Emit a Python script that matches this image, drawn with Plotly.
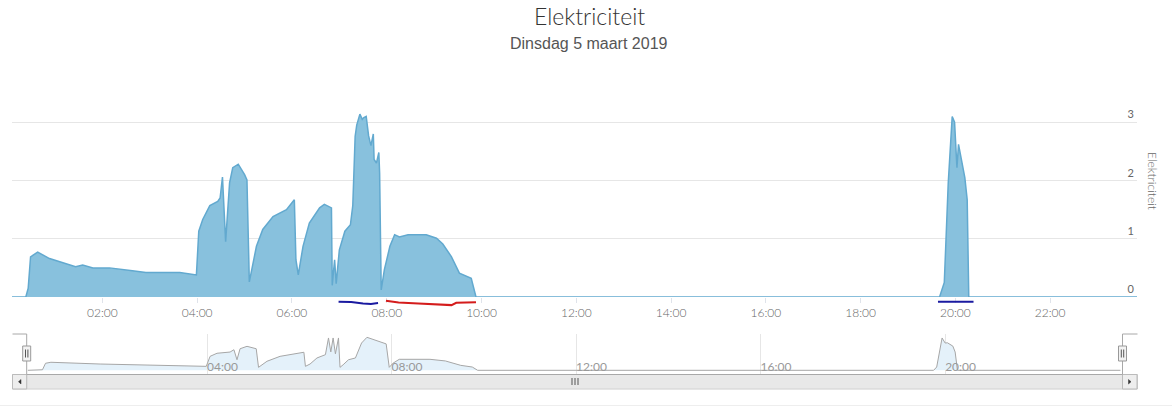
import plotly.graph_objects as go

DAY = "2019-03-05 "

# ---- main series (Elektriciteit) ----
main_times = ["00:05", "00:23", "00:26", "00:29", "00:38", "00:53", "01:26", "01:35", "01:48", "02:09",
              "02:38", "02:55", "03:38", "03:59", "04:02", "04:07", "04:16", "04:26", "04:29", "04:32",
              "04:36", "04:41", "04:45", "04:52", "05:00", "05:03", "05:06", "05:10", "05:15", "05:23",
              "05:36", "05:53", "06:03", "06:05", "06:08", "06:14", "06:22", "06:35", "06:41", "06:50",
              "06:51", "06:54", "06:56", "07:00", "07:07", "07:14", "07:17", "07:20", "07:22", "07:26",
              "07:29", "07:31", "07:34", "07:37", "07:40", "07:43", "07:44", "07:47", "07:50", "07:51",
              "07:53", "07:57", "08:04", "08:10", "08:16", "08:27", "08:50", "09:03", "09:11", "09:22",
              "09:32", "09:47", "09:53", "19:40", "19:46", "19:51", "19:56", "19:59", "20:02", "20:04",
              "20:08", "20:12", "20:15", "20:17", "23:50"]
main_values = [0, 0, 0.15, 0.69, 0.77, 0.66, 0.52, 0.55, 0.50, 0.50,
               0.45, 0.42, 0.42, 0.38, 1.13, 1.33, 1.57, 1.64, 1.70, 2.06,
               0.95, 1.96, 2.22, 2.28, 2.10, 2.01, 0.26, 0.55, 0.87, 1.16,
               1.38, 1.50, 1.67, 0.64, 0.38, 0.87, 1.27, 1.53, 1.59, 1.53,
               0.20, 0.64, 0.23, 0.81, 1.13, 1.24, 1.57, 2.76, 2.95, 3.14,
               3.05, 3.08, 3.10, 2.77, 2.60, 2.80, 2.36, 2.30, 2.48, 2.13,
               0.12, 0.47, 0.87, 1.07, 1.03, 1.07, 1.07, 1.01, 0.91, 0.69,
               0.41, 0.32, 0, 0, 0.25, 1.96, 3.10, 3.00, 2.22, 2.62,
               2.36, 2.05, 1.67, 0, 0]

# ---- navigator series ----
nav_times = ["00:07", "00:26", "00:30", "00:37", "01:41", "02:46", "03:59", "04:04", "04:13", "04:30",
             "04:35", "04:39", "04:43", "04:52", "05:04", "05:07", "05:18", "05:35", "06:06", "06:08",
             "06:14", "06:23", "06:34", "06:38", "06:41", "06:44", "06:47", "06:51", "06:53", "06:57",
             "07:04", "07:13", "07:16", "07:21", "07:28", "07:36", "07:43", "07:47", "07:53", "07:57",
             "08:02", "08:10", "08:50", "09:10", "09:30", "09:45", "09:52", "19:45", "19:49", "19:56",
             "20:00", "20:03", "20:10", "20:13", "20:16", "23:48"]
nav_values = [0, 0.05, 0.64, 0.73, 0.57, 0.45, 0.36, 1.27, 1.55, 1.66,
              1.87, 0.96, 1.96, 2.18, 1.96, 0.27, 0.82, 1.27, 1.64, 0.36,
              0.57, 1.12, 1.42, 2.94, 1.67, 2.94, 1.50, 2.94, 0.27, 0.50,
              0.96, 1.12, 1.66, 2.48, 3.00, 2.80, 2.63, 2.48, 2.40, 0.27,
              0.65, 1.00, 1.00, 0.85, 0.45, 0.30, 0, 0, 0.30, 2.94,
              2.48, 2.50, 2.20, 1.66, 0, 0]

# ---- marker lines under the axis ----
blue1_times = ["06:59", "07:15", "07:30", "07:40", "07:49"]
blue1_values = [-0.08, -0.085, -0.11, -0.12, -0.105]
red_times = ["07:59", "08:15", "08:40", "09:00", "09:15", "09:22", "09:28", "09:40", "09:53"]
red_values = [-0.065, -0.095, -0.11, -0.125, -0.145, -0.14, -0.10, -0.10, -0.09]
blue2_times = ["19:38", "20:23"]
blue2_values = [-0.08, -0.08]

y_ticks = [0, 1, 2, 3, 4]
y_ticktext = ["0", "1", "2", "3", ""]

X_RANGE = [DAY + "00:05:30", DAY + "23:50"]
W, H = 1172, 407


def px(x):
    return x / W


def py(y):
    return 1 - y / H


def ts(lst):
    return [DAY + t for t in lst]


fig = go.Figure()

fig.add_trace(go.Scatter(x=ts(main_times), y=main_values, mode="lines", fill="tozeroy",
                         line=dict(color="#62a9cf", width=1.5), fillcolor="#88c1dd",
                         xaxis="x", yaxis="y", hoverinfo="skip", showlegend=False))

for t, v, c in [(blue1_times, blue1_values, "#1a1aa0"), (red_times, red_values, "#d41c1c"),
                (blue2_times, blue2_values, "#1a1aa0")]:
    fig.add_trace(go.Scatter(x=ts(t), y=v, mode="lines", line=dict(color=c, width=2),
                             xaxis="x", yaxis="y4", hoverinfo="skip", showlegend=False))

fig.add_trace(go.Scatter(x=ts(nav_times), y=nav_values, mode="lines", fill="tozeroy",
                         line=dict(color="#a6a6a6", width=1), fillcolor="#e4f1fa",
                         xaxis="x2", yaxis="y3", hoverinfo="skip", showlegend=False))

tickfont = dict(family="Lato, Open Sans, sans-serif", size=12, color="#666666", weight=300)

fig.update_layout(
    width=W, height=H,
    margin=dict(l=0, r=0, t=0, b=0),
    paper_bgcolor="white", plot_bgcolor="rgba(0,0,0,0)",
    xaxis=dict(domain=[px(12), px(1137)], range=X_RANGE, type="date", anchor="y",
               tickformat="%H:%M", dtick=2 * 3600 * 1000, tick0=DAY + "00:00",
               showgrid=False, zeroline=False, showline=False,
               ticks="outside", ticklen=5, tickcolor="#dfe3ea", tickfont=tickfont),
    yaxis=dict(domain=[py(297), py(64)], range=[0, 4], side="right", anchor="x",
               tickvals=y_ticks, ticktext=y_ticktext, ticklabelposition="inside top",
               gridcolor="#e6e6e6", zeroline=False, showline=False,
               tickfont=dict(family="Lato, Open Sans, sans-serif", size=11, color="#666666")),
    yaxis4=dict(domain=[py(308.6), py(297)], range=[-0.2, 0], anchor="x",
                visible=False, showgrid=False),
    xaxis2=dict(domain=[px(26.7), px(1122)], range=X_RANGE, type="date", anchor="y3",
                tickformat="%H:%M", dtick=4 * 3600 * 1000, tick0=DAY + "00:00",
                showgrid=True, gridcolor="#e6e6e6", zeroline=False, showline=False,
                ticks="", ticklabelposition="inside right", ticklabelstandoff=-5,
                tickfont=dict(family="Lato, Open Sans, sans-serif", size=12, color="#999999")),
    yaxis3=dict(domain=[py(374), py(334)], range=[-0.336, 3.3], anchor="x2",
                visible=False, showgrid=False),
)

shapes = []
# scrollbar track / thumb
shapes.append(dict(type="rect", xref="paper", yref="paper", x0=px(12.5), x1=px(1137.5),
                   y0=py(389), y1=py(374.5), fillcolor="#f2f2f2", line=dict(color="#cccccc", width=1),
                   layer="below"))
shapes.append(dict(type="rect", xref="paper", yref="paper", x0=px(26.7), x1=px(1122.5),
                   y0=py(388.5), y1=py(374.5), fillcolor="#e8e8e8", line=dict(color="#dddddd", width=1),
                   layer="below"))
# scrollbar buttons
for x0, x1 in [(12.5, 26.7), (1122.5, 1137)]:
    shapes.append(dict(type="rect", xref="paper", yref="paper", x0=px(x0), x1=px(x1),
                       y0=py(389), y1=py(374.5), fillcolor="#eeeeee",
                       line=dict(color="#bbbbbb", width=1)))
# arrows
shapes.append(dict(type="path", xref="paper", yref="paper",
                   path=f"M {px(21)} {py(379.5)} L {px(21)} {py(384)} L {px(18.5)} {py(381.7)} Z",
                   fillcolor="#333333", line=dict(color="#333333", width=0.5)))
shapes.append(dict(type="path", xref="paper", yref="paper",
                   path=f"M {px(1128.5)} {py(379.5)} L {px(1128.5)} {py(384)} L {px(1131)} {py(381.7)} Z",
                   fillcolor="#333333", line=dict(color="#333333", width=0.5)))
# thumb grip
for gx in [572, 575, 578]:
    shapes.append(dict(type="line", xref="paper", yref="paper", x0=px(gx), x1=px(gx),
                       y0=py(378), y1=py(385), line=dict(color="#555555", width=1)))
# navigator outline
shapes.append(dict(type="path", xref="paper", yref="paper",
                   path=(f"M {px(12.5)} {py(334)} L {px(26.7)} {py(334)} L {px(26.7)} {py(374.5)} "
                         f"L {px(1122.5)} {py(374.5)} L {px(1122.5)} {py(334)} L {px(1137.5)} {py(334)}"),
                   line=dict(color="#a8a8a8", width=1)))
# handles
for hx in [26.7, 1122.5]:
    shapes.append(dict(type="rect", xref="paper", yref="paper", x0=px(hx - 4), x1=px(hx + 4),
                       y0=py(361), y1=py(346), fillcolor="#f2f2f2", line=dict(color="#999999", width=1)))
    for d in [-1.2, 1.2]:
        shapes.append(dict(type="line", xref="paper", yref="paper", x0=px(hx + d), x1=px(hx + d),
                           y0=py(349.5), y1=py(357.5), line=dict(color="#555555", width=1)))
# bottom separator
shapes.append(dict(type="line", xref="paper", yref="paper", x0=0, x1=1, y0=py(405.5), y1=py(405.5),
                   line=dict(color="#eeeeee", width=1)))
fig.update_layout(shapes=shapes)

fig.add_annotation(text="Elektriciteit", xref="paper", yref="paper", x=px(589), y=py(0),
                   xanchor="center", yanchor="top", showarrow=False,
                   font=dict(family="Lato, Open Sans, sans-serif", size=23, color="#333333", weight=300))
fig.add_annotation(text="Dinsdag 5 maart 2019", xref="paper", yref="paper", x=px(589), y=py(43),
                   xanchor="center", yanchor="middle", showarrow=False,
                   font=dict(family="Liberation Sans, Arial, sans-serif", size=16, color="#555555"))
fig.add_annotation(text="Elektriciteit", xref="paper", yref="paper", x=px(1152), y=py(181),
                   xanchor="center", yanchor="middle", showarrow=False, textangle=90,
                   font=dict(family="Lato, Open Sans, sans-serif", size=12, color="#666666", weight=300))

# the figure is exactly window-sized: drop the page's default 8px body margin
fig.write_html("out.html", config={"displayModeBar": False},
               post_script="document.body.style.margin='0px';")
